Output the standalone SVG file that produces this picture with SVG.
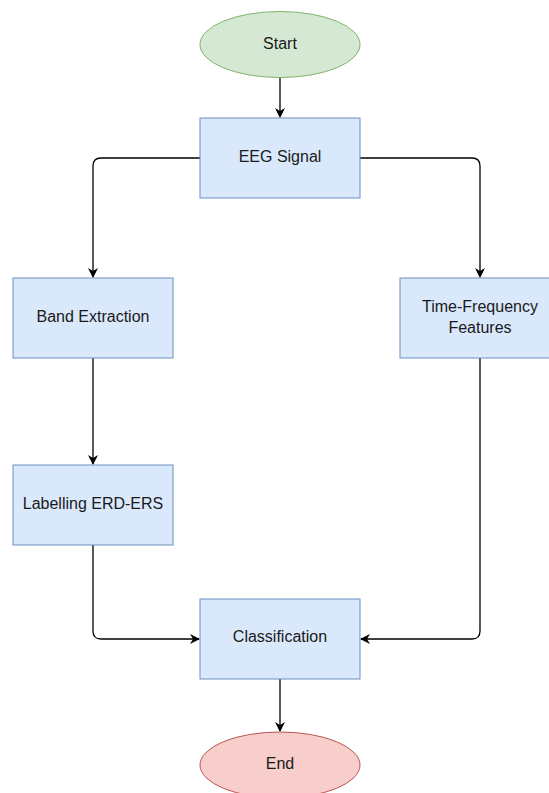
<svg xmlns="http://www.w3.org/2000/svg" width="549" height="793" viewBox="0 0 549 793">
<defs>
<marker id="arr" viewBox="0 0 10 10" refX="9" refY="5" markerWidth="10" markerHeight="10" markerUnits="userSpaceOnUse" orient="auto">
<path d="M0,0 L10,5 L0,10 L3,5 Z" fill="#000"/>
</marker>
</defs>
<style>
.box{fill:#dae8fc;stroke:#6c8ebf;stroke-width:1}
.start{fill:#d5e8d4;stroke:#82b366;stroke-width:1}
.end{fill:#f8cecc;stroke:#b85450;stroke-width:1}
.lbl{font-family:"Liberation Sans",Arial,sans-serif;font-size:16px;fill:#1a1a1a;text-anchor:middle;dominant-baseline:central}
.edge{fill:none;stroke:#000;stroke-width:1.3;marker-end:url(#arr)}
</style>
<rect width="549" height="793" fill="#fff"/>
<g id="connectors">
<path class="edge" d="M280,78 L280,117"/>
<path class="edge" d="M200,158 L101,158 Q93,158 93,166 L93,277"/>
<path class="edge" d="M360,158 L472,158 Q480,158 480,166 L480,277"/>
<path class="edge" d="M93,358 L93,464"/>
<path class="edge" d="M93,545 L93,631 Q93,639 101,639 L199,639"/>
<path class="edge" d="M480,358 L480,631 Q480,639 472,639 L361,639"/>
<path class="edge" d="M280,679 L280,731"/>
</g>
<g id="start"><ellipse class="start" cx="280" cy="44.5" rx="80" ry="33"/><text class="lbl" x="280" y="43">Start</text></g>
<g id="eeg"><rect class="box" x="200" y="118" width="160" height="80"/><text class="lbl" x="280" y="156">EEG Signal</text></g>
<g id="band"><rect class="box" x="13" y="278" width="160" height="80"/><text class="lbl" x="93" y="316">Band Extraction</text></g>
<g id="tf"><rect class="box" x="400" y="278" width="160" height="80"/><text class="lbl" x="480" y="306">Time-Frequency</text><text class="lbl" x="480" y="327">Features</text></g>
<g id="label"><rect class="box" x="13" y="465" width="160" height="80"/><text class="lbl" x="93" y="503">Labelling ERD-ERS</text></g>
<g id="class"><rect class="box" x="200" y="599" width="160" height="80"/><text class="lbl" x="280" y="636">Classification</text></g>
<g id="end"><ellipse class="end" cx="280" cy="765" rx="80" ry="33"/><text class="lbl" x="280" y="763">End</text></g>
</svg>
